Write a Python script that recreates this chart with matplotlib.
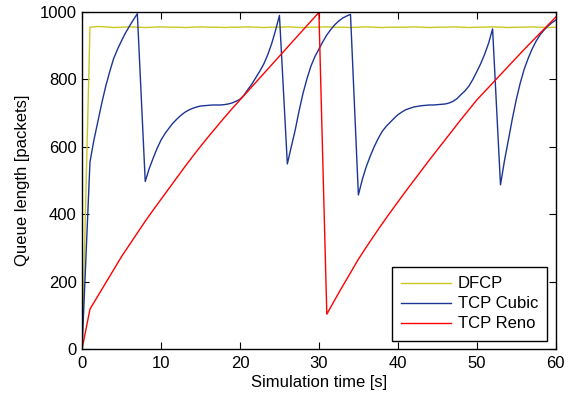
import matplotlib
matplotlib.use("Agg")
import matplotlib.pyplot as plt

plt.rcParams["font.family"] = ["Liberation Sans", "DejaVu Sans"]
plt.rcParams["font.size"] = 12

# sample times [s]
t = list(range(0, 61))
t_half = [i / 2 for i in range(0, 121)]

# queue length [packets]
dfcp = [0, 955, 957, 956, 954, 955, 956, 955, 954, 955,
        956, 955, 955, 954, 955, 956, 955, 955, 954, 955,
        955, 956, 955, 954, 955, 955, 956, 955, 954, 955,
        955, 956, 955, 955, 954, 955, 956, 955, 954, 955,
        955, 955, 956, 955, 954, 955, 955, 956, 955, 954,
        955, 955, 956, 955, 954, 955, 955, 956, 955, 954,
        955]

# cubic read at 0.5 s steps (curvier)
cubic = [0, 278, 555, 620, 675, 730, 780, 823, 862, 890,
         915, 938, 958, 977, 995, 746, 497, 535, 566, 595,
         620, 639, 655, 670, 682, 693, 702, 709, 714, 718,
         721, 722, 723, 724, 724, 724, 725, 727, 730, 735,
         741, 753, 770, 786, 805, 824, 845, 872, 905, 945,
         990, 770, 549, 600, 650, 708, 760, 803, 840, 868,
         890, 912, 932, 948, 962, 973, 982, 988, 993, 725,
         457, 503, 541, 572, 600, 624, 645, 660, 672, 684,
         695, 703, 710, 714, 718, 720, 722, 723, 724, 724,
         725, 726, 727, 730, 735, 743, 755, 766, 780, 800,
         823, 847, 875, 908, 950, 718, 487, 558, 620, 683,
         740, 789, 830, 862, 890, 913, 932, 946, 958, 968,
         976]

reno = [0, 118, 157, 196, 235, 274, 309, 344, 379, 412,
        444, 476, 508, 540, 571, 601, 630, 658, 686, 713,
        739, 765, 791, 817, 843, 869, 895, 921, 947, 973,
        999, 103, 145, 186, 226, 266, 302, 337, 371, 404,
        436, 468, 499, 530, 561, 591, 621, 651, 681, 710,
        739, 764, 789, 814, 839, 864, 889, 913, 937, 961,
        985]

fig = plt.figure(figsize=(5.7, 4.01), dpi=100)
ax = fig.add_axes([0.144, 0.130, 0.831, 0.840])

ax.plot(t, dfcp, color="#cbc822", lw=1.0, label="DFCP")
ax.plot(t_half, cubic, color="#1c3594", lw=1.0, label="TCP Cubic")
ax.plot(t, reno, color="#ff0000", lw=1.0, label="TCP Reno")

ax.set_xlim(0, 60)
ax.set_ylim(0, 1000)
ax.set_xticks(range(0, 61, 10))
ax.set_yticks(range(0, 1001, 200))
ax.tick_params(direction="in", top=True, right=True, length=5, width=0.8,
               labelsize=12)
ax.tick_params(axis="x", pad=5)
ax.tick_params(axis="y", pad=4)
for s in ax.spines.values():
    s.set_linewidth(1.0)

ax.set_xlabel("Simulation time [s]", fontsize=12, labelpad=3)
ax.set_ylabel("Queue length [packets]", fontsize=12, labelpad=7)

leg = ax.legend(loc="lower right", fancybox=False, framealpha=1,
                edgecolor="black", fontsize=12, handlelength=3.0,
                borderaxespad=0.5, labelspacing=0.3, borderpad=0.55,
                handletextpad=0.4)
leg.get_frame().set_linewidth(1.0)

fig.savefig("out.png", dpi=100)
